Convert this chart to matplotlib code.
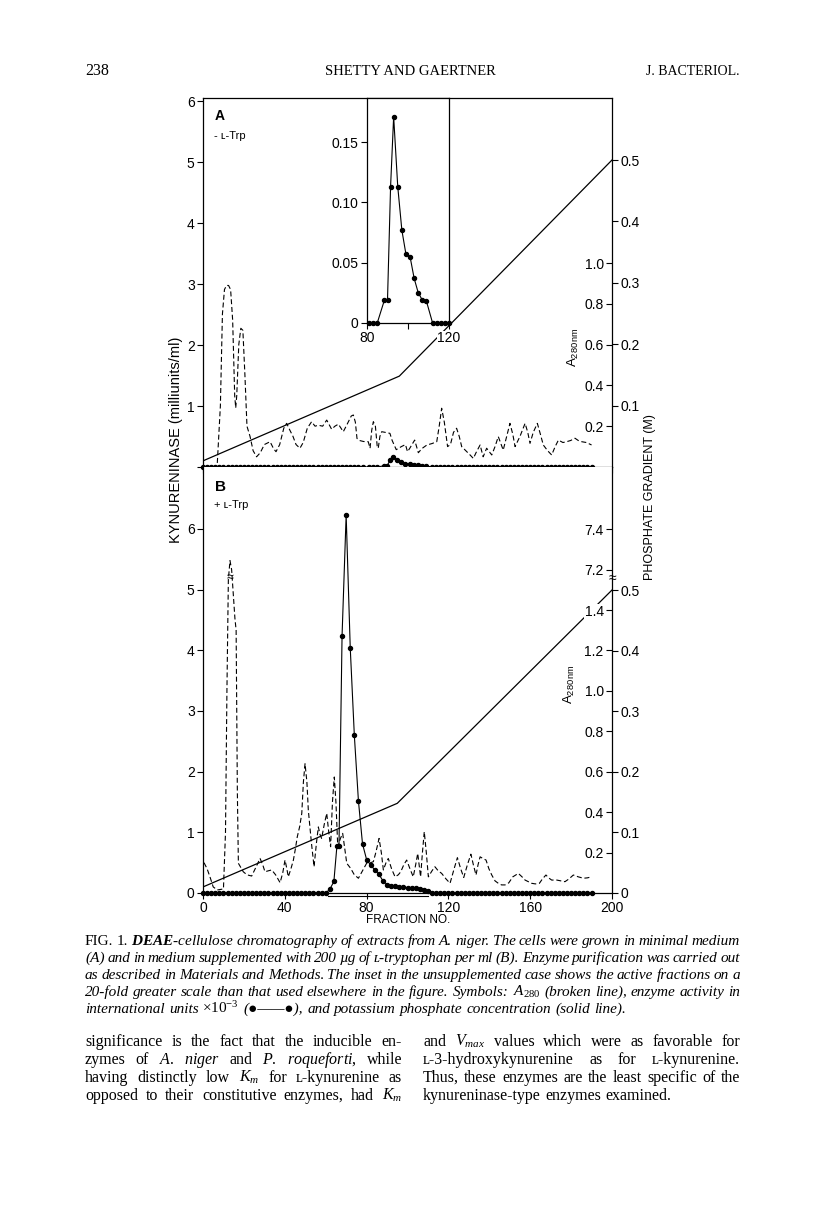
import numpy as np
import matplotlib
matplotlib.use('Agg')
import matplotlib.pyplot as plt

plt.rcParams['font.family'] = ['Liberation Sans', 'DejaVu Sans']
plt.rcParams['mathtext.fontset'] = 'custom'
plt.rcParams['mathtext.rm'] = 'Liberation Serif'
plt.rcParams['mathtext.it'] = 'Liberation Serif:italic'
plt.rcParams['mathtext.bf'] = 'Liberation Serif:italic:bold'
plt.rcParams['mathtext.sf'] = 'Liberation Sans'
SERIF = ['Liberation Serif', 'DejaVu Serif']

# fraction numbers (every second tube assayed)
fractions = np.arange(0, 192, 2)

# --- panel A (- L-Trp): activity only in fractions 88-110, also shown in the inset
inset_frac = [81, 83, 85, 88.5, 90, 91.5, 93, 95, 97, 99, 101, 103, 105, 107, 109, 112, 114, 116, 118, 120]
inset_act = [0, 0, 0, 0.019, 0.019, 0.113, 0.171, 0.113, 0.077, 0.057, 0.055, 0.037, 0.025, 0.019, 0.018,
             0, 0, 0, 0, 0]

# --- panel B (+ L-Trp): active fractions
peak_b_frac = [62, 64, 65.5, 66.5, 68, 70, 72, 74, 76, 78, 80, 82, 84, 86, 88, 90, 92, 94, 96, 98,
               100, 102, 104, 106, 108, 110]
peak_b_act = [0.06, 0.19, 0.78, 0.78, 4.24, 6.23, 4.04, 2.60, 1.52, 0.81, 0.55, 0.46, 0.38, 0.31, 0.20,
              0.14, 0.12, 0.11, 0.10, 0.10, 0.09, 0.085, 0.08, 0.07, 0.05, 0.03]

# --- A280 (broken line)
a280_a_frac = [7, 8.5, 9.5, 10.5, 11.5, 12.5, 13.5, 14.5, 15.5, 16, 16.5, 17.5, 18.5, 19.5, 20.5, 21.5,
               23, 24.5, 26.2, 28, 30, 32.8, 34.5, 35.7, 37.5, 39.5, 40.9, 42.5, 44, 45.5, 47.4, 49, 51,
               53.1, 54.8, 56.4, 58.5, 60.5, 62.9, 64.5, 66.2, 67.5, 68.6, 70.5, 72.5, 73.5, 74.5, 75.3,
               76.5, 78.5, 80.8, 81.7, 82.5, 83.3, 84.3, 85.2, 85.7, 86.5, 87.4, 89, 91.4, 92.5, 94.5,
               97, 99, 100, 101, 103.5, 105.3, 107, 109.5, 112, 114.3, 115.5, 116.7, 118, 119.6, 121,
               122.5, 124, 125.3, 126.5, 128.5, 130.6, 132.2, 133.5, 135.5, 137, 138.7, 141.2, 142.8,
               144.4, 146.8, 148.5, 150.1, 151.5, 152.6, 155, 157.5, 158.8, 159.9, 161.5, 163.5, 165,
               166.4, 168.5, 170.5, 172.2, 173.8, 176, 177.8, 179.8, 181.9, 183.5, 185.2, 187.5, 190]
a280_a = [0.02, 0.3, 0.75, 0.87, 0.89, 0.89, 0.87, 0.72, 0.35, 0.29, 0.35, 0.6, 0.68, 0.67, 0.45, 0.2,
          0.15, 0.08, 0.05, 0.07, 0.11, 0.124, 0.09, 0.075, 0.11, 0.19, 0.214, 0.18, 0.15, 0.11, 0.092,
          0.12, 0.19, 0.222, 0.2, 0.205, 0.2, 0.23, 0.185, 0.2, 0.21, 0.19, 0.173, 0.21, 0.25, 0.255,
          0.22, 0.14, 0.13, 0.125, 0.124, 0.092, 0.18, 0.222, 0.2, 0.1, 0.092, 0.15, 0.173, 0.17, 0.165,
          0.13, 0.085, 0.1, 0.11, 0.075, 0.09, 0.132, 0.07, 0.09, 0.108, 0.115, 0.124, 0.2, 0.288, 0.22,
          0.1, 0.11, 0.17, 0.19, 0.15, 0.1, 0.08, 0.059, 0.042, 0.07, 0.108, 0.05, 0.092, 0.059, 0.1,
          0.149, 0.083, 0.15, 0.214, 0.16, 0.1, 0.15, 0.214, 0.17, 0.116, 0.17, 0.214, 0.16, 0.108, 0.08,
          0.059, 0.1, 0.132, 0.12, 0.124, 0.13, 0.141, 0.13, 0.124, 0.12, 0.108]

# panel B; values above 1.5 are on the broken part of the scale (1.6 is labelled 7.2)
a280_b_frac = [0.5, 2, 3.4, 5, 7, 10, 11, 11.7, 12.4, 13.2, 14, 14.8, 15.6, 16.2, 16.8, 17.3, 19.7, 21.5,
               23.8, 26, 27.9, 29.2, 30.3, 32, 33.6, 35.5, 37.7, 39, 40.1, 41, 41.7, 43, 44.2, 45.2, 46.1,
               47.3, 48.3, 49.1, 49.9, 50.8, 51.5, 53, 54.3, 55.5, 56.4, 57.2, 58, 59.3, 60.5, 61.5, 62.4,
               63.3, 64.2, 65, 65.9, 67.2, 68.3, 69.3, 70.3, 72.2, 74, 76, 78, 80, 82, 83.3, 84.5, 86.1,
               87.2, 88.2, 89.5, 90.6, 92.2, 93.9, 95.5, 96.7, 98.2, 99.6, 101.2, 102.8, 104, 105, 105.7,
               106.4, 107.3, 108.2, 109.2, 110.2, 112, 113.4, 115, 116.7, 118.8, 120.8, 122.8, 124.4, 126,
               127.5, 129.3, 131, 132.2, 133.5, 134.5, 135.5, 137, 138.4, 139.8, 141.2, 142.8, 144.4, 146,
               147.7, 149.5, 151.5, 154.2, 156, 157.5, 160.7, 162.5, 164.5, 166, 167.7, 169, 170.5, 173,
               175, 177, 179, 181.1, 183.5, 186, 188, 190]
a280_b = [0.15, 0.12, 0.08, 0.03, 0.015, 0.02, 0.3, 1.0, 1.55, 1.645, 1.6, 1.48, 1.36, 1.3, 0.5, 0.147,
          0.105, 0.09, 0.084, 0.13, 0.171, 0.14, 0.105, 0.11, 0.114, 0.09, 0.051, 0.1, 0.163, 0.12, 0.08,
          0.12, 0.163, 0.22, 0.278, 0.33, 0.394, 0.55, 0.64, 0.55, 0.41, 0.25, 0.13, 0.25, 0.327, 0.29,
          0.27, 0.34, 0.394, 0.3, 0.229, 0.45, 0.574, 0.45, 0.229, 0.27, 0.295, 0.22, 0.147, 0.122, 0.09,
          0.073, 0.11, 0.147, 0.15, 0.155, 0.2, 0.27, 0.2, 0.114, 0.15, 0.171, 0.12, 0.08, 0.09, 0.105,
          0.14, 0.163, 0.12, 0.08, 0.14, 0.196, 0.14, 0.08, 0.2, 0.303, 0.2, 0.08, 0.11, 0.13, 0.11, 0.097,
          0.07, 0.048, 0.12, 0.175, 0.12, 0.077, 0.14, 0.192, 0.14, 0.089, 0.14, 0.179, 0.17, 0.163, 0.12,
          0.089, 0.06, 0.048, 0.04, 0.04, 0.05, 0.08, 0.097, 0.08, 0.064, 0.048, 0.045, 0.048, 0.07, 0.089,
          0.075, 0.064, 0.064, 0.06, 0.056, 0.07, 0.089, 0.08, 0.073, 0.075, 0.08]

# --- phosphate gradient (M), solid line
grad_a_frac = [0, 96, 200]
grad_a = [0.01, 0.148, 0.5]
grad_b_frac = [0, 95, 200]
grad_b = [0.01, 0.148, 0.5]

# pooled fractions (bar under the peak)
pool_a = [91, 103]
pool_b = [61, 110]

# activity series incl. the zero fractions
act_a_x = np.concatenate([fractions[fractions < 80], inset_frac, fractions[fractions > 120]])
act_a_y = np.concatenate([np.zeros((fractions < 80).sum()), inset_act, np.zeros((fractions > 120).sum())])
act_b_x = np.concatenate([fractions[fractions <= 60], peak_b_frac, fractions[fractions >= 112]])
act_b_y = np.concatenate([np.zeros((fractions <= 60).sum()), peak_b_act, np.zeros((fractions >= 112).sum())])

W, H = 816, 1217
fig = plt.figure(figsize=(W / 100, H / 100), dpi=100)


def box(x0, y0, x1, y1):
    return [x0 / W, 1 - y1 / H, (x1 - x0) / W, (y1 - y0) / H]


dot = dict(color='k', lw=0.8, marker='o', ms=2.9, mfc='k', mec='k', clip_on=False, zorder=3)
dash = dict(color='k', lw=0.8, dashes=(4.5, 2.5))
solid = dict(color='k', lw=0.9)

axA = fig.add_axes(box(203, 98, 612, 467))
axB = fig.add_axes(box(203, 467, 612, 893))

for ax, top in ((axA, 6.05), (axB, 7.02)):
    ax.set_xlim(0, 200)
    ax.set_ylim(0, top)
    ax.set_xticks([0, 40, 80, 120, 160, 200])
    ax.tick_params(direction='out', length=4, width=0.8, labelsize=10, pad=2)
    for s in ax.spines.values():
        s.set_linewidth(0.9)
axB.spines['top'].set_visible(False)
axA.set_xticklabels([])
axA.set_yticks(range(7), ['', '1', '2', '3', '4', '5', '6'])
axB.set_yticks(range(7), ['0', '1', '2', '3', '4', '5', '6'])

axA.plot(act_a_x, act_a_y, **dot)
axB.plot(act_b_x, act_b_y, **dot)
axA.plot(pool_a, [-0.05, -0.05], color='k', lw=0.8, clip_on=False)
axB.plot(pool_b, [-0.05, -0.05], color='k', lw=0.8, clip_on=False)


def twin(ax, top):
    t = ax.twinx()
    t.set_ylim(0, top)
    for s in t.spines.values():
        s.set_visible(False)
    return t


# phosphate axes (outer ticks)
phA = twin(axA, 0.601)
phB = twin(axB, 0.703)
phA.set_yticks([0.1, 0.2, 0.3, 0.4, 0.5], ['0.1', '0.2', '0.3', '0.4', '0.5'])
phB.set_yticks([0, 0.1, 0.2, 0.3, 0.4, 0.5], ['0', '0.1', '0.2', '0.3', '0.4', '0.5'])
for p in (phA, phB):
    p.tick_params(axis='y', direction='out', length=4, width=0.8, labelsize=10, pad=2)
phA.plot(grad_a_frac, grad_a, **solid)
phB.plot(grad_b_frac, grad_b, **solid)

# A280 axes (inner ticks and labels)
aA = twin(axA, 1.809)
aB = twin(axB, 2.108)
aA.set_yticks([0.2, 0.4, 0.6, 0.8, 1.0], ['0.2', '0.4', '0.6', '0.8', '1.0'])
aB.set_yticks([0.2, 0.4, 0.6, 0.8, 1.0, 1.2, 1.4, 1.6, 1.8],
              ['0.2', '0.4', '0.6', '0.8', '1.0', '1.2', '1.4', '7.2', '7.4'])
for a in (aA, aB):
    a.tick_params(axis='y', direction='in', length=4, width=0.8, labelsize=10, pad=-6)
    for t in a.yaxis.get_major_ticks():
        t.label2.set_horizontalalignment('right')
        t.label2.set_bbox(dict(fc='white', ec='none', pad=0.5))
aA.plot(a280_a_frac, a280_a, **dash)
aB.plot(a280_b_frac, a280_b, **dash)
aB.text(13.2, 1.56, '≈', ha='center', va='center', fontsize=9)
aB.text(1.0, 1.56, '≈', transform=aB.get_yaxis_transform(), ha='center', va='center', fontsize=10)

fig.text(573 / W, 1 - 347 / H, r'$\mathsf{A_{280\,nm}}$', rotation=90, ha='center', va='center', fontsize=9.5)
fig.text(569 / W, 1 - 684 / H, r'$\mathsf{A_{280\,nm}}$', rotation=90, ha='center', va='center', fontsize=9.5)

# inset with the active fractions of panel A
ins = fig.add_axes(box(367, 98, 449, 323))
ins.set_xlim(80, 120)
ins.set_ylim(0, 0.1865)
ins.set_xticks([80, 100, 120], ['80', '', '120'])
ins.set_yticks([0, 0.05, 0.10, 0.15], ['0', '0.05', '0.10', '0.15'])
ins.tick_params(direction='out', length=4, width=0.8, labelsize=10, pad=2)
for s in ins.spines.values():
    s.set_linewidth(0.9)
for t in ins.get_xticklabels():
    t.set_bbox(dict(fc='white', ec='none', pad=0.5))
ins.plot(inset_frac, inset_act, **dot)

# panel letters and axis titles
fig.text(215 / W, 1 - 116 / H, 'A', fontsize=10, fontweight='bold', va='center')
fig.text(214 / W, 1 - 136 / H, '- ʟ-Trp', fontsize=8, va='center')
fig.text(215 / W, 1 - 487 / H, 'B', fontsize=11, fontweight='bold', va='center')
fig.text(214 / W, 1 - 505 / H, '+ ʟ-Trp', fontsize=8, va='center')
fig.text(408 / W, 1 - 920 / H, 'FRACTION NO.', fontsize=8.5, ha='center', va='center')
fig.text(176 / W, 1 - 440 / H, 'KYNURENINASE (milliunits/ml)', rotation=90, fontsize=10.5,
         ha='center', va='center')
fig.text(650 / W, 1 - 497 / H, 'PHOSPHATE GRADIENT (M)', rotation=90, fontsize=9,
         ha='center', va='center')

# page header
fig.text(85 / W, 1 - 75 / H, '238', fontsize=11.5, family=SERIF, va='baseline')
fig.text(410 / W, 1 - 75 / H, 'SHETTY AND GAERTNER', fontsize=10.5, family=SERIF, va='baseline', ha='center')
fig.text(740 / W, 1 - 75 / H, 'J. BACTERIOL.', fontsize=10, family=SERIF, va='baseline', ha='right')


def put_line(text, y, x0, x1, size, style='normal', justify=True):
    r = fig.canvas.get_renderer()
    arts = []
    for w in text.split():
        st = style
        if w.startswith('~'):
            w, st = w[1:], 'normal'
        arts.append(fig.text(0, 1 - y / H, w, fontsize=size, style=st, family=SERIF, va='baseline'))
    widths = [a.get_window_extent(r).width for a in arts]
    if justify and len(arts) > 1:
        gap = (x1 - x0 - sum(widths)) / (len(arts) - 1)
    else:
        gap = size * 100 / 72 * 0.27
    x = x0
    for a, wd in zip(arts, widths):
        a.set_x(x / W)
        x += wd + gap


caption = [
    r"~FIG. ~1. $\mathbf{DEAE}$-cellulose chromatography of extracts from A. niger. The cells were grown in minimal medium",
    "(A) and in medium supplemented with 200 µg of ʟ-tryptophan per ml (B). Enzyme purification was carried out",
    "as described in Materials and Methods. The inset in the unsupplemented case shows the active fractions on a",
    r"20-fold greater scale than that used elsewhere in the figure. Symbols: $A_{280}$ (broken line), enzyme activity in",
    r"international units $\times\mathit{10}^{-3}$ (●——●), and potassium phosphate concentration (solid line).",
]
for i, line in enumerate(caption):
    put_line(line, 945 + 17 * i, 85, 740, 11, style='italic', justify=i < 4)

left_col = [
    "significance is the fact that the inducible en-",
    r"zymes of $\mathit{A.}$ $\mathit{niger}$ and $\mathit{P.}$ $\mathit{roqueforti}$, while",
    r"having distinctly low $K_m$ for ʟ-kynurenine as",
    r"opposed to their constitutive enzymes, had $K_m$",
]
right_col = [
    r"and $V_{max}$ values which were as favorable for",
    "ʟ-3-hydroxykynurenine as for ʟ-kynurenine.",
    "Thus, these enzymes are the least specific of the",
    "kynureninase-type enzymes examined.",
]
for i, line in enumerate(left_col):
    put_line(line, 1046 + 18 * i, 85, 402, 11.5)
for i, line in enumerate(right_col):
    put_line(line, 1046 + 18 * i, 423, 740, 11.5, justify=i < 3)

fig.savefig('out.png', dpi=100)
